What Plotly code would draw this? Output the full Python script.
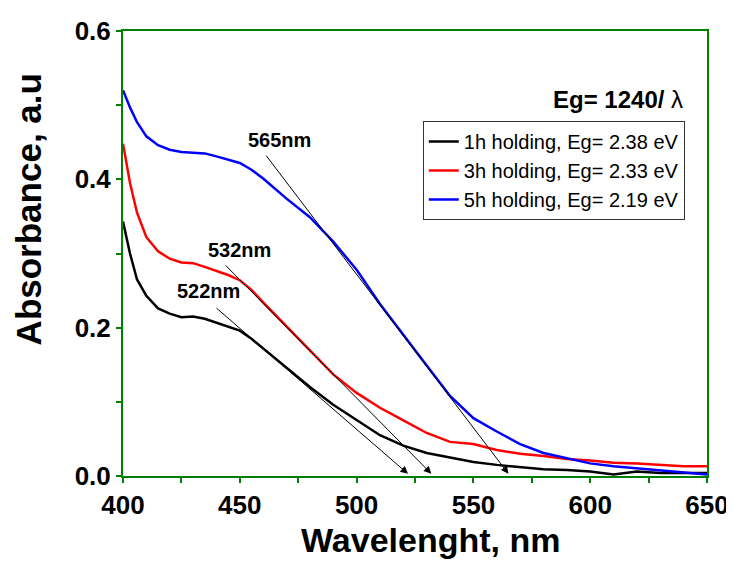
"""
UV-Vis absorbance spectra with band-gap tangent arrows
"""

import plotly.graph_objects as go

# ====================================================
# Data
# ====================================================

wavelength = [400, 403, 406, 410, 415, 420, 425, 430, 435, 440, 445, 450,
              455, 460, 470, 480, 490, 500, 510, 520, 530, 540, 550, 560,
              570, 580, 590, 600, 610, 620, 630, 640, 650]

abs_1h = [0.343, 0.300, 0.265, 0.243, 0.226, 0.219, 0.214, 0.215, 0.212,
          0.207, 0.201, 0.196, 0.185, 0.172, 0.146, 0.120, 0.096, 0.075,
          0.055, 0.041, 0.031, 0.025, 0.019, 0.015, 0.012, 0.009, 0.008,
          0.006, 0.002, 0.006, 0.004, 0.004, 0.004]

abs_3h = [0.448, 0.395, 0.355, 0.322, 0.303, 0.293, 0.288, 0.287, 0.282,
          0.277, 0.271, 0.264, 0.251, 0.234, 0.202, 0.169, 0.137, 0.112,
          0.092, 0.075, 0.058, 0.046, 0.043, 0.035, 0.030, 0.027, 0.023,
          0.021, 0.018, 0.017, 0.015, 0.013, 0.013]

abs_5h = [0.520, 0.497, 0.477, 0.458, 0.446, 0.440, 0.437, 0.436, 0.435,
          0.431, 0.427, 0.422, 0.413, 0.401, 0.374, 0.349, 0.316, 0.278,
          0.232, 0.190, 0.149, 0.108, 0.078, 0.060, 0.043, 0.031, 0.024,
          0.017, 0.013, 0.010, 0.007, 0.004, 0.002]

series_names = [
    "1h holding, Eg= 2.38 eV",
    "3h holding, Eg= 2.33 eV",
    "5h holding, Eg= 2.19 eV",
]
series_colors = ["#000000", "#FF0000", "#0000FF"]

# tangent arrows: edge wavelength, tail point of the tangent, label point
edge_nm = [565, 532, 522]
tail_x = [460.8, 443.3, 439.4]
tail_y = [0.434, 0.286, 0.228]
label_x = [466.8, 449.7, 436.8]
label_y = [0.453, 0.305, 0.249]

FONT = "Arial, Liberation Sans, sans-serif"
GREEN = "#008000"

fig = go.Figure()

for name, color, values in zip(series_names, series_colors,
                               [abs_1h, abs_3h, abs_5h]):

    fig.add_trace(
        go.Scatter(
            x=wavelength,
            y=values,
            mode="lines",
            name=name,
            line=dict(color=color, width=2.5),
        )
    )

# ====================================================
# Tangent arrows and labels
# ====================================================

for nm, tx, ty, lx, ly in zip(edge_nm, tail_x, tail_y, label_x, label_y):

    fig.add_annotation(
        x=nm, y=0.003,
        ax=tx, ay=ty,
        xref="x", yref="y",
        axref="x", ayref="y",
        text="",
        showarrow=True,
        arrowhead=2,
        arrowsize=1.5,
        arrowwidth=1,
        arrowcolor="#000000",
    )

    fig.add_annotation(
        x=lx, y=ly,
        xref="x", yref="y",
        text=f"<b>{nm}nm</b>",
        showarrow=False,
        font=dict(family=FONT, size=20, color="#000000"),
    )

fig.add_annotation(
    x=0.962, y=0.845,
    xref="paper", yref="paper",
    xanchor="right", yanchor="middle",
    text="<b>Eg= 1240/</b> λ",
    showarrow=False,
    font=dict(family=FONT, size=24, color="#000000"),
)

# axis titles placed as annotations to match the reference offsets
fig.add_annotation(
    x=0.527, y=-0.144,
    xref="paper", yref="paper",
    xanchor="center", yanchor="middle",
    text="<b>Wavelenght, nm</b>",
    showarrow=False,
    font=dict(family=FONT, size=34, color="#000000"),
)

fig.add_annotation(
    x=-0.162, y=0.60,
    xref="paper", yref="paper",
    xanchor="center", yanchor="middle",
    text="<b>Absorbance, a.u</b>",
    textangle=-90,
    showarrow=False,
    font=dict(family=FONT, size=35, color="#000000"),
)

# page body keeps an 8px margin, so the margins are offset by 8px
fig.update_layout(
    width=734,
    height=562,
    margin=dict(l=115, r=35, t=23, b=94, autoexpand=False),
    paper_bgcolor="white",
    plot_bgcolor="white",
    font=dict(family=FONT, color="#000000"),
    legend=dict(
        x=0.962, y=0.798,
        xanchor="right", yanchor="top",
        bgcolor="white",
        bordercolor="#333333",
        borderwidth=1,
        font=dict(family=FONT, size=20, color="#000000"),
        tracegroupgap=0,
    ),
)

fig.update_xaxes(
    range=[400, 650],
    dtick=50,
    tick0=400,
    ticks="outside",
    ticklen=5,
    tickwidth=2,
    tickcolor=GREEN,
    minor=dict(dtick=25, ticks="outside", ticklen=5, tickwidth=2,
               tickcolor=GREEN),
    showline=True,
    linecolor=GREEN,
    linewidth=2,
    mirror=True,
    showgrid=False,
    zeroline=False,
    automargin=False,
    tickfont=dict(family=FONT, size=26, color="#000000", weight="bold"),
)

fig.update_yaxes(
    range=[0, 0.6],
    dtick=0.2,
    tick0=0,
    tickformat=".1f",
    ticks="outside",
    ticklen=5,
    tickwidth=2,
    tickcolor=GREEN,
    minor=dict(dtick=0.1, ticks="outside", ticklen=5, tickwidth=2,
               tickcolor=GREEN),
    showline=True,
    linecolor=GREEN,
    linewidth=2,
    mirror=True,
    showgrid=False,
    zeroline=False,
    automargin=False,
    tickfont=dict(family=FONT, size=26, color="#000000", weight="bold"),
)

fig.write_html("out.html")
